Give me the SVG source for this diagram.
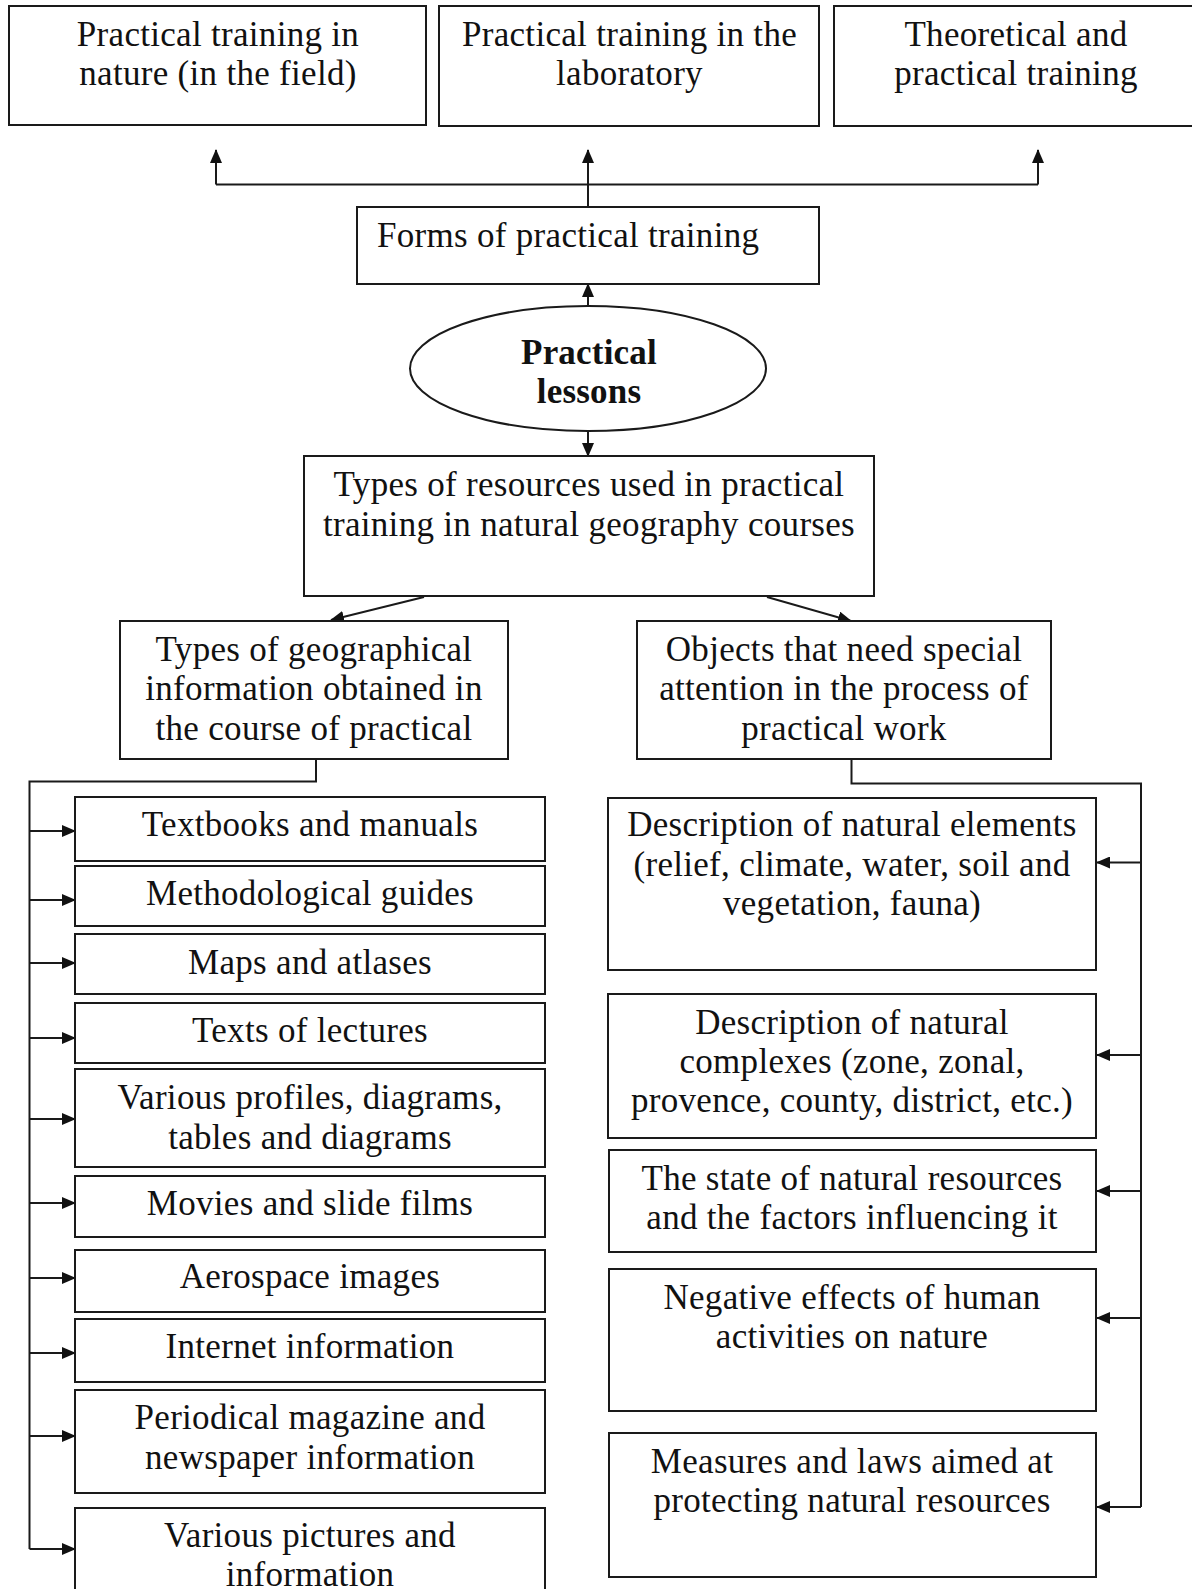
<svg xmlns="http://www.w3.org/2000/svg" width="1192" height="1589" viewBox="0 0 1192 1589">
<style>
.box{fill:#fff;stroke:#1a1a1a;stroke-width:2}
.t{font-family:"Liberation Serif","Times New Roman",serif;font-size:35px;fill:#111;text-anchor:middle;letter-spacing:0.3px}
.b{font-weight:bold;letter-spacing:0.2px}
.l{text-anchor:start}
.c{fill:none;stroke:#1a1a1a;stroke-width:2}
</style>
<defs>
<marker id="ah" markerUnits="userSpaceOnUse" markerWidth="14" markerHeight="12" refX="13" refY="6" orient="auto">
<path d="M0,0 L14,6 L0,12 z" fill="#111"/>
</marker>
</defs>
<rect width="1192" height="1589" fill="#fff"/>

<g id="connectors">
<path class="c" d="M216,184.5 H1038"/>
<path class="c" d="M216,184.5 V150" marker-end="url(#ah)"/>
<path class="c" d="M1038,184.5 V150" marker-end="url(#ah)"/>
<path class="c" d="M588,207 V150" marker-end="url(#ah)"/>
<path class="c" d="M588,306 V284" marker-end="url(#ah)"/>
<path class="c" d="M588,431 V456" marker-end="url(#ah)"/>
<path class="c" d="M424,597 L331,620" marker-end="url(#ah)"/>
<path class="c" d="M767,597 L851,621" marker-end="url(#ah)"/>
<path class="c" d="M316,759 V781.5 H29.5 V1549"/>
<path class="c" d="M29.5,831 H75" marker-end="url(#ah)"/>
<path class="c" d="M29.5,900 H75" marker-end="url(#ah)"/>
<path class="c" d="M29.5,963 H75" marker-end="url(#ah)"/>
<path class="c" d="M29.5,1038 H75" marker-end="url(#ah)"/>
<path class="c" d="M29.5,1119 H75" marker-end="url(#ah)"/>
<path class="c" d="M29.5,1203 H75" marker-end="url(#ah)"/>
<path class="c" d="M29.5,1278 H75" marker-end="url(#ah)"/>
<path class="c" d="M29.5,1353 H75" marker-end="url(#ah)"/>
<path class="c" d="M29.5,1436 H75" marker-end="url(#ah)"/>
<path class="c" d="M29.5,1549 H75" marker-end="url(#ah)"/>
<path class="c" d="M851.5,759 V783.5 H1141 V1507"/>
<path class="c" d="M1141,862.5 H1097" marker-end="url(#ah)"/>
<path class="c" d="M1141,1055 H1097" marker-end="url(#ah)"/>
<path class="c" d="M1141,1191 H1097" marker-end="url(#ah)"/>
<path class="c" d="M1141,1318 H1097" marker-end="url(#ah)"/>
<path class="c" d="M1141,1507 H1097" marker-end="url(#ah)"/>
</g>

<g id="n-field">
<rect class="box" x="9" y="6" width="417" height="119"/>
<text class="t" x="218" y="45.6">Practical training in</text>
<text class="t" x="218" y="85">nature (in the field)</text>
</g>
<g id="n-lab">
<rect class="box" x="439" y="6" width="380" height="120"/>
<text class="t" x="629.5" y="45.6">Practical training in the</text>
<text class="t" x="629.5" y="85">laboratory</text>
</g>
<g id="n-theory">
<rect class="box" x="834" y="6" width="380" height="120"/>
<text class="t" x="1016" y="45.6">Theoretical and</text>
<text class="t" x="1016" y="85">practical training</text>
</g>
<g id="n-forms">
<rect class="box" x="357" y="207" width="462" height="77"/>
<text class="t l" x="377" y="247">Forms of practical training</text>
</g>
<g id="n-lessons">
<ellipse class="box" cx="588" cy="368.5" rx="178" ry="62.5"/>
<text class="t b" x="589" y="364">Practical</text>
<text class="t b" x="589" y="403">lessons</text>
</g>
<g id="n-resources">
<rect class="box" x="304" y="456" width="570" height="140"/>
<text class="t" x="589" y="496">Types of resources used in practical</text>
<text class="t" x="589" y="535.5">training in natural geography courses</text>
</g>
<g id="n-geoinfo">
<rect class="box" x="120" y="621" width="388" height="138"/>
<text class="t" x="314" y="661">Types of geographical</text>
<text class="t" x="314" y="700">information obtained in</text>
<text class="t" x="314" y="739.5">the course of practical</text>
</g>
<g id="n-objects">
<rect class="box" x="637" y="621" width="414" height="138"/>
<text class="t" x="844" y="661">Objects that need special</text>
<text class="t" x="844" y="700">attention in the process of</text>
<text class="t" x="844" y="739.5">practical work</text>
</g>

<g id="n-textbooks">
<rect class="box" x="75" y="797" width="470" height="64"/>
<text class="t" x="310" y="836">Textbooks and manuals</text>
</g>
<g id="n-guides">
<rect class="box" x="75" y="866" width="470" height="60"/>
<text class="t" x="310" y="905">Methodological guides</text>
</g>
<g id="n-maps">
<rect class="box" x="75" y="934" width="470" height="60"/>
<text class="t" x="310" y="974">Maps and atlases</text>
</g>
<g id="n-lectures">
<rect class="box" x="75" y="1003" width="470" height="60"/>
<text class="t" x="310" y="1042">Texts of lectures</text>
</g>
<g id="n-profiles">
<rect class="box" x="75" y="1069" width="470" height="98"/>
<text class="t" x="310" y="1109">Various profiles, diagrams,</text>
<text class="t" x="310" y="1148.5">tables and diagrams</text>
</g>
<g id="n-movies">
<rect class="box" x="75" y="1176" width="470" height="61"/>
<text class="t" x="310" y="1215">Movies and slide films</text>
</g>
<g id="n-aerospace">
<rect class="box" x="75" y="1250" width="470" height="62"/>
<text class="t" x="310" y="1288">Aerospace images</text>
</g>
<g id="n-internet">
<rect class="box" x="75" y="1319" width="470" height="63"/>
<text class="t" x="310" y="1358">Internet information</text>
</g>
<g id="n-periodical">
<rect class="box" x="75" y="1390" width="470" height="103"/>
<text class="t" x="310" y="1429">Periodical magazine and</text>
<text class="t" x="310" y="1469">newspaper information</text>
</g>
<g id="n-pictures">
<rect class="box" x="75" y="1508" width="470" height="100"/>
<text class="t" x="310" y="1547">Various pictures and</text>
<text class="t" x="310" y="1586">information</text>
</g>

<g id="n-elements">
<rect class="box" x="608" y="798" width="488" height="172"/>
<text class="t" x="852" y="836">Description of natural elements</text>
<text class="t" x="852" y="876">(relief, climate, water, soil and</text>
<text class="t" x="852" y="915">vegetation, fauna)</text>
</g>
<g id="n-complexes">
<rect class="box" x="608" y="994" width="488" height="144"/>
<text class="t" x="852" y="1034">Description of natural</text>
<text class="t" x="852" y="1073">complexes (zone, zonal,</text>
<text class="t" x="852" y="1112">provence, county, district, etc.)</text>
</g>
<g id="n-state">
<rect class="box" x="609" y="1150" width="487" height="102"/>
<text class="t" x="852" y="1190">The state of natural resources</text>
<text class="t" x="852" y="1229">and the factors influencing it</text>
</g>
<g id="n-negative">
<rect class="box" x="609" y="1269" width="487" height="142"/>
<text class="t" x="852" y="1309">Negative effects of human</text>
<text class="t" x="852" y="1348">activities on nature</text>
</g>
<g id="n-measures">
<rect class="box" x="609" y="1433" width="487" height="144"/>
<text class="t" x="852" y="1473">Measures and laws aimed at</text>
<text class="t" x="852" y="1512">protecting natural resources</text>
</g>
</svg>
